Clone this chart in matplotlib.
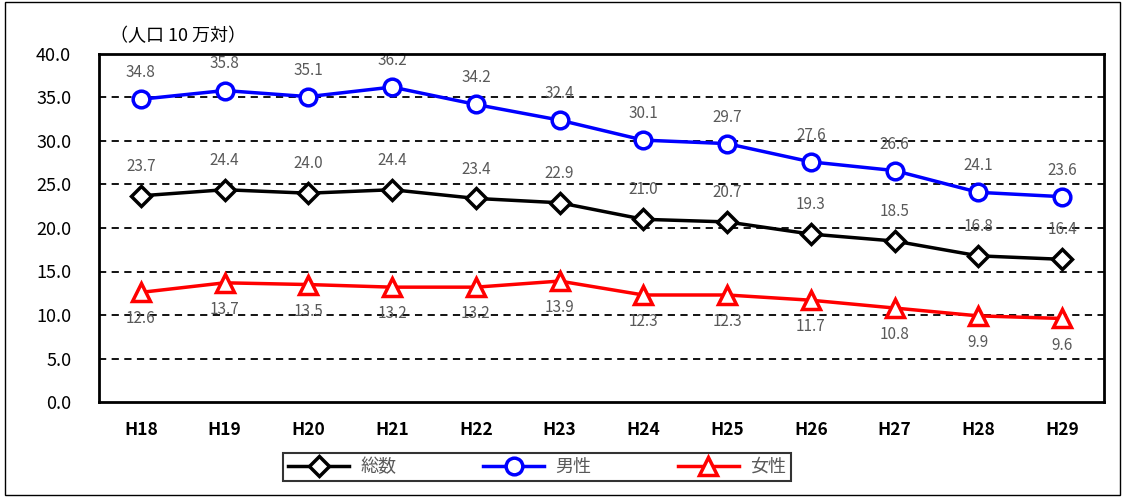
import matplotlib
matplotlib.use("Agg")
import matplotlib.pyplot as plt
from matplotlib.patches import Rectangle

plt.rcParams['font.family'] = ['Noto Sans CJK JP', 'DejaVu Sans']

years = ['H18', 'H19', 'H20', 'H21', 'H22', 'H23', 'H24', 'H25', 'H26', 'H27', 'H28', 'H29']
total = [23.7, 24.4, 24.0, 24.4, 23.4, 22.9, 21.0, 20.7, 19.3, 18.5, 16.8, 16.4]
male = [34.8, 35.8, 35.1, 36.2, 34.2, 32.4, 30.1, 29.7, 27.6, 26.6, 24.1, 23.6]
female = [12.6, 13.7, 13.5, 13.2, 13.2, 13.9, 12.3, 12.3, 11.7, 10.8, 9.9, 9.6]
yticks = [0, 5, 10, 15, 20, 25, 30, 35, 40]

fig = plt.figure(figsize=(11.24, 4.97), dpi=100)
ax = fig.add_axes([99/1124, 1 - 402/497, (1104-99)/1124, (402-54)/497])

x = list(range(len(years)))
lblcol = '#595959'

for y in yticks[1:-1]:
    ax.axhline(y, color='black', lw=1.3, ls=(0, (4, 3)), zorder=1)

ax.plot(x, total, color='black', lw=2.5, marker='D', ms=10, mfc='white',
        mec='black', mew=2.5, zorder=3, label='総数')
ax.plot(x, male, color='#0000ff', lw=2.5, marker='o', ms=12, mfc='white',
        mec='#0000ff', mew=2.5, zorder=3, label='男性')
ax.plot(x, female, color='#ff0000', lw=2.5, marker='^', ms=13, mfc='white',
        mec='#ff0000', mew=2.5, zorder=3, label='女性')

for i in x:
    ax.annotate(f'{total[i]:.1f}', (i, total[i]), xytext=(0, 15), textcoords='offset points',
                ha='center', va='bottom', fontsize=11, color=lblcol, zorder=2)
    ax.annotate(f'{male[i]:.1f}', (i, male[i]), xytext=(0, 13), textcoords='offset points',
                ha='center', va='bottom', fontsize=11, color=lblcol, zorder=2)
    ax.annotate(f'{female[i]:.1f}', (i, female[i]), xytext=(0, -13), textcoords='offset points',
                ha='center', va='top', fontsize=11, color=lblcol, zorder=2)

ax.set_xlim(-0.5, len(years) - 0.5)
ax.set_ylim(0, 40)
ax.set_yticks(yticks)
ax.set_yticklabels([f'{v:.1f}' for v in yticks], fontsize=13)
ax.set_xticks(x)
ax.set_xticklabels(years, fontsize=12.5, fontweight='bold')
ax.tick_params(length=0)
ax.tick_params(axis='x', pad=14)
ax.tick_params(axis='y', pad=20)
for sp in ax.spines.values():
    sp.set_linewidth(2)

fig.text(110/1124, 1 - 36/497, '（人口 10 万対）', fontsize=13, va='center')

leg = fig.legend(loc='center', bbox_to_anchor=(537/1124, 1 - 467/497), ncol=3,
                 frameon=True, fancybox=False, edgecolor='black', fontsize=13,
                 handlelength=3.4, columnspacing=4.8, borderpad=0.25,
                 handletextpad=0.6, borderaxespad=0)
leg.get_frame().set_linewidth(1.5)
for t in leg.get_texts():
    t.set_color(lblcol)

fig.patches.append(Rectangle((5/1124, 2/497), 1115/1124, 493/497, transform=fig.transFigure,
                             fill=False, edgecolor='black', lw=1))

fig.savefig('out.png', dpi=100)
